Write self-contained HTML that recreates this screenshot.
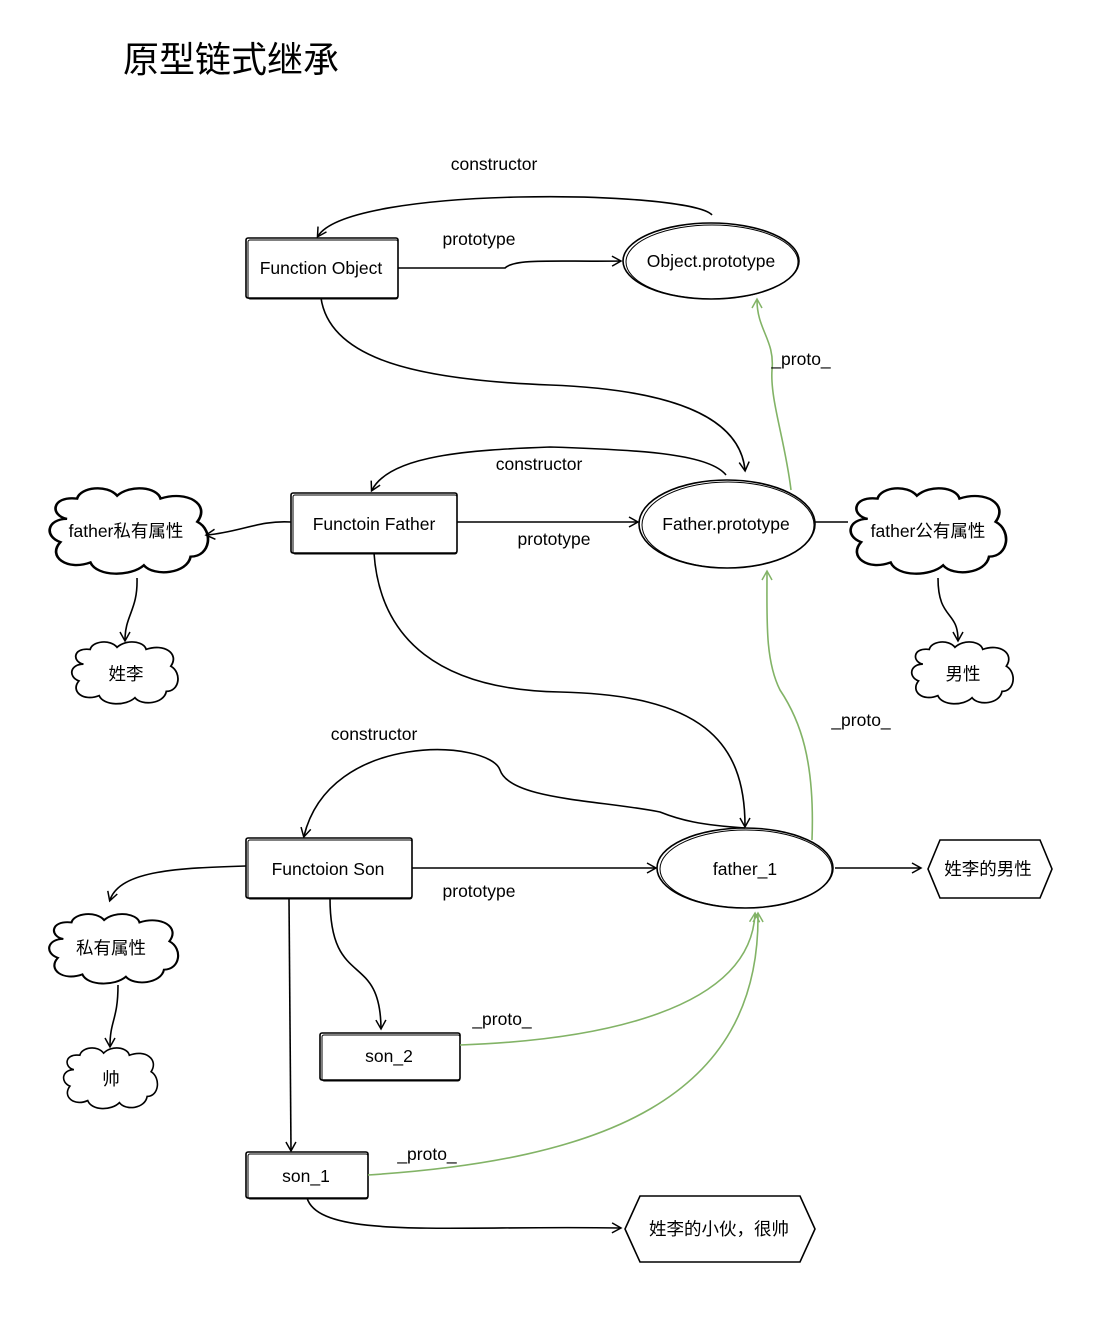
<!DOCTYPE html>
<html><head><meta charset="utf-8"><style>
html,body{margin:0;padding:0;background:#fff}
svg{display:block}
text{font-family:"Liberation Sans","Noto Sans CJK SC",sans-serif;font-size:17.5px;fill:#000}
</style></head><body>
<svg width="1116" height="1317" viewBox="0 0 1116 1317" xmlns="http://www.w3.org/2000/svg">
<defs>
<marker id="a" markerWidth="12" markerHeight="12" refX="9" refY="6" orient="auto" markerUnits="userSpaceOnUse">
<path d="M1,1 L10,6 L1,11" fill="none" stroke="#000" stroke-width="1.5"/></marker>
<marker id="g" markerWidth="12" markerHeight="12" refX="9" refY="6" orient="auto" markerUnits="userSpaceOnUse">
<path d="M1,1 L10,6 L1,11" fill="none" stroke="#82b366" stroke-width="1.5"/></marker>
<path id="cl" d="M12,22 C2,20 2,6 18,8 C20,0 36,-2 42,6 C50,-2 66,0 68,8 C84,2 98,12 90,24 C100,30 98,48 86,48 C84,60 64,62 58,54 C50,62 30,62 26,52 C12,58 0,48 8,38 C-2,34 0,22 12,22 Z"/>
</defs>
<g fill="none" stroke="#000" stroke-width="1.6">
<rect x="246" y="238" width="152" height="60" rx="2"/><rect x="248" y="240" width="150" height="59" rx="2" stroke-width="1"/>
<ellipse cx="711" cy="261" rx="88" ry="38"/><ellipse cx="712" cy="262" rx="86" ry="37" stroke-width="1"/>
<path d="M712,215 C690,190 350,185 318,236" marker-end="url(#a)"/>
<path d="M398,268 L505,268 C515,258 560,262 620,261" marker-end="url(#a)"/>
<path d="M321,298 C330,360 420,380 550,385 C680,390 740,420 745,470" marker-end="url(#a)"/>
<rect x="291" y="493" width="166" height="60" rx="2"/><rect x="293" y="495" width="164" height="59" rx="2" stroke-width="1"/>
<ellipse cx="727" cy="524" rx="88" ry="44"/><ellipse cx="728" cy="525" rx="86" ry="43" stroke-width="1"/>
<path d="M726,475 C710,455 650,450 550,447 C470,450 390,455 372,490" marker-end="url(#a)"/>
<path d="M457,522 L637,522" marker-end="url(#a)"/>
<path d="M291,522 C260,520 240,532 207,535" marker-end="url(#a)"/>
<path d="M137,578 C138,610 125,615 125,640" marker-end="url(#a)"/>
<path d="M815,522 L848,522"/>
<path d="M938,578 C938,620 958,610 958,640" marker-end="url(#a)"/>
<path d="M374,553 C380,640 440,690 560,692 C700,695 745,740 745,826" marker-end="url(#a)"/>
<rect x="246" y="838" width="166" height="60" rx="2"/><rect x="248" y="840" width="164" height="59" rx="2" stroke-width="1"/>
<ellipse cx="745" cy="868" rx="88" ry="40"/><ellipse cx="746" cy="869" rx="86" ry="39" stroke-width="1"/>
<path d="M745,828 C700,825 680,820 660,812 C600,800 510,800 500,770 C490,740 330,730 304,836" marker-end="url(#a)"/>
<path d="M412,868 L655,868" marker-end="url(#a)"/>
<path d="M835,868 L920,868" marker-end="url(#a)"/>
<path d="M246,866 C180,868 120,870 110,900" marker-end="url(#a)"/>
<path d="M118,985 C118,1020 110,1020 110,1046" marker-end="url(#a)"/>
<rect x="320" y="1033" width="140" height="47" rx="2"/><rect x="322" y="1035" width="138" height="46" rx="2" stroke-width="1"/>
<path d="M330,898 C330,990 380,950 381,1028" marker-end="url(#a)"/>
<rect x="246" y="1152" width="122" height="46" rx="2"/><rect x="248" y="1154" width="120" height="45" rx="2" stroke-width="1"/>
<path d="M289,898 L291,1150" marker-end="url(#a)"/>
<path d="M307,1198 C320,1240 450,1225 620,1228" marker-end="url(#a)"/>
<use href="#cl" transform="translate(47,487) scale(1.67,1.45)"/>
<use href="#cl" transform="translate(70,641) scale(1.12,1.05)"/>
<use href="#cl" transform="translate(848,487) scale(1.64,1.45)"/>
<use href="#cl" transform="translate(910,641) scale(1.07,1.05)"/>
<use href="#cl" transform="translate(47,913) scale(1.36,1.18)"/>
<use href="#cl" transform="translate(62,1047) scale(0.99,1.03)"/>
<path d="M940,840 L1040,840 L1052,869 L1040,898 L940,898 L928,869 Z"/>
<path d="M640,1196 L800,1196 L815,1229 L800,1262 L640,1262 L625,1229 Z"/>
</g>
<g fill="none" stroke="#82b366" stroke-width="1.6">
<path d="M791,490 C785,440 770,400 772,370 C775,340 757,330 757,300" marker-end="url(#g)"/>
<path d="M812,840 C815,760 800,720 780,690 C765,660 767,620 767,572" marker-end="url(#g)"/>
<path d="M460,1045 C600,1040 750,1010 755,914" marker-end="url(#g)"/>
<path d="M368,1175 C600,1160 760,1100 758,914" marker-end="url(#g)"/>
</g>
<text x="123" y="72" style="font-size:36px">原型链式继承</text>
<g text-anchor="middle">
<text x="494" y="170">constructor</text>
<text x="479" y="245">prototype</text>
<text x="321" y="274">Function Object</text>
<text x="711" y="267">Object.prototype</text>
<text x="801" y="365">_proto_</text>
<text x="539" y="470">constructor</text>
<text x="374" y="530">Functoin Father</text>
<text x="726" y="530">Father.prototype</text>
<text x="554" y="545">prototype</text>
<text x="126" y="537">father私有属性</text>
<text x="126" y="680">姓李</text>
<text x="928" y="537">father公有属性</text>
<text x="963" y="680">男性</text>
<text x="861" y="726">_proto_</text>
<text x="374" y="740">constructor</text>
<text x="328" y="875">Functoion Son</text>
<text x="745" y="875">father_1</text>
<text x="479" y="897">prototype</text>
<text x="988" y="875">姓李的男性</text>
<text x="111" y="954">私有属性</text>
<text x="111" y="1085">帅</text>
<text x="502" y="1025">_proto_</text>
<text x="389" y="1062">son_2</text>
<text x="427" y="1160">_proto_</text>
<text x="306" y="1182">son_1</text>
<text x="719" y="1235">姓李的小伙，很帅</text>
</g>
</svg>
</body></html>
